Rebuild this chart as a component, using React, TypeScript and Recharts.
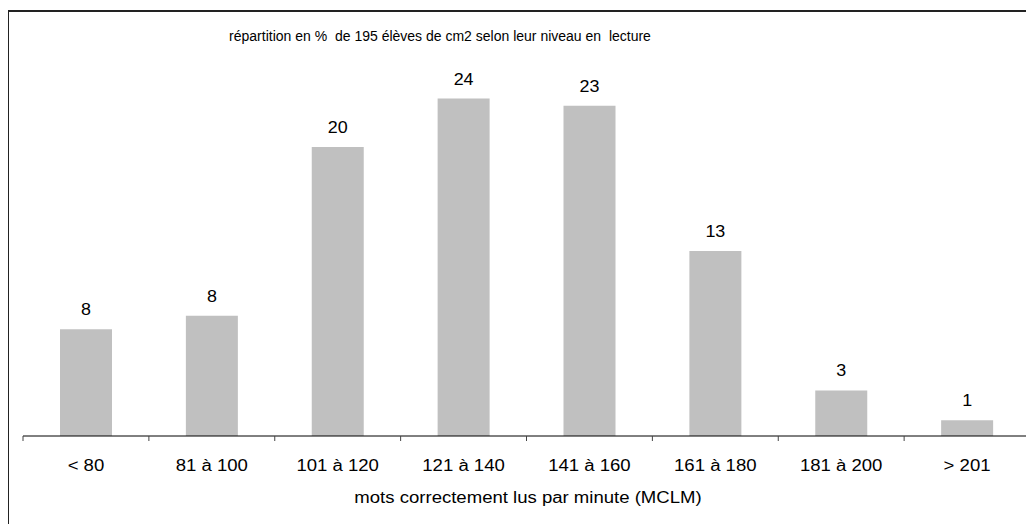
import React from 'react';
import { Bar, BarChart, LabelList, XAxis, YAxis } from 'recharts';

const categories = ['< 80', '81 à 100', '101 à 120', '121 à 140', '141 à 160', '161 à 180', '181 à 200', '> 201'];
const percents = [7.5, 8.45, 20.3, 23.7, 23.2, 13.0, 3.2, 1.1];

const title = 'répartition en %  de 195 élèves de cm2 selon leur niveau en  lecture';
const axisTitle = 'mots correctement lus par minute (MCLM)';

const data = categories.map((name, i) => ({ name, value: percents[i] }));

const FONT = '"Liberation Sans", Arial, sans-serif';
const W = 1026;
const H = 516;
const MARGIN = { top: 72, right: 4, bottom: 58, left: 15 };
const BAND = (W - MARGIN.left - MARGIN.right) / categories.length;
const STRETCH = 1.16;

const Tick = (props: any) => {
  const { x, y, payload, index, visibleTicksCount } = props;
  const half = payload && payload.offset ? payload.offset : BAND / 2;
  const last = index === (visibleTicksCount ?? categories.length) - 1;
  return (
    <g>
      <line x1={x - half} x2={x - half} y1={y} y2={y + 5} stroke="#444" />
      {last && <line x1={x + half} x2={x + half} y1={y} y2={y + 5} stroke="#444" />}
      <text
        transform={`translate(${x},${y + 35}) scale(${STRETCH},1)`}
        textAnchor="middle"
        fontFamily={FONT}
        fontSize={16}
        fill="#000"
      >
        {payload.value}
      </text>
    </g>
  );
};

const ValueLabel = (props: any) => {
  const { x, y, width, value } = props;
  return (
    <text
      transform={`translate(${Number(x) + Number(width) / 2},${Number(y) - 14}) scale(1.12,1)`}
      textAnchor="middle"
      fontFamily={FONT}
      fontSize={16}
      fill="#000"
    >
      {Math.round(Number(value))}
    </text>
  );
};

export default function App() {
  return (
    <div style={{ position: 'relative', width: W, height: H, background: '#fff' }}>
      <div
        style={{
          position: 'absolute',
          left: -1,
          top: 2,
          right: 0,
          bottom: 0,
          borderTop: '2px solid #222',
          borderLeft: '2px solid #222',
        }}
      />
      <BarChart width={W} height={H} data={data} margin={MARGIN} barSize={52}>
        <XAxis
          dataKey="name"
          height={30}
          tickSize={0}
          tickMargin={0}
          tickLine={false}
          axisLine={{ stroke: '#000' }}
          tick={<Tick />}
          interval={0}
        />
        <YAxis hide domain={[0, 25]} />
        <Bar dataKey="value" fill="#C0C0C0" isAnimationActive={false}>
          <LabelList dataKey="value" content={<ValueLabel />} />
        </Bar>
      </BarChart>
      <svg
        width={W}
        height={H}
        style={{ position: 'absolute', left: 0, top: 0, pointerEvents: 'none' }}
      >
        <text
          x={432}
          y={33}
          textAnchor="middle"
          fontFamily={FONT}
          fontSize={14}
          fill="#000"
          style={{ whiteSpace: 'pre' }}
        >
          {title}
        </text>
        <text
          transform={`translate(520,495) scale(${STRETCH},1)`}
          textAnchor="middle"
          fontFamily={FONT}
          fontSize={16}
          fill="#000"
        >
          {axisTitle}
        </text>
      </svg>
    </div>
  );
}
